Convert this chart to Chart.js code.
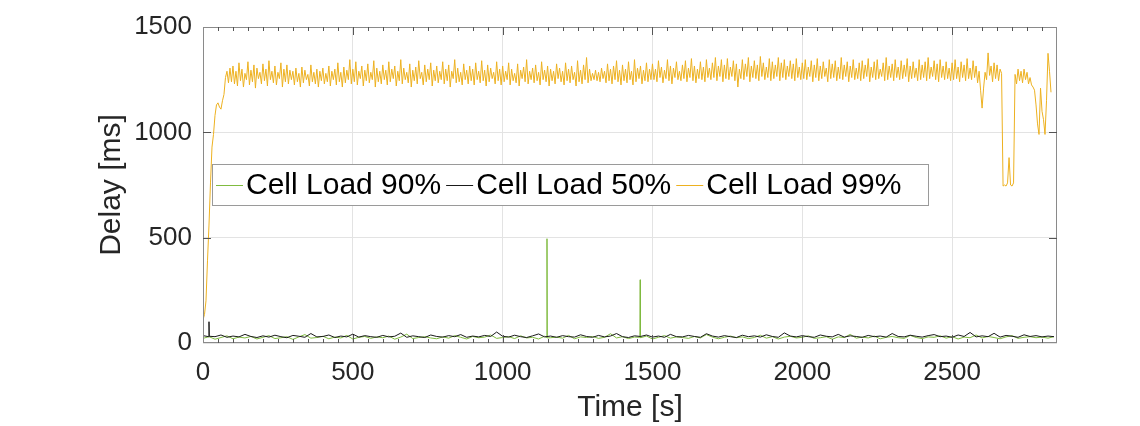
<!DOCTYPE html>
<html>
<head>
<meta charset="utf-8">
<script src="https://cdn.jsdelivr.net/npm/chart.js@4.4.1/dist/chart.umd.min.js"></script>
<style>
  html, body { margin: 0; padding: 0; background: #fff; }
  #wrap { width: 1140px; height: 426px; }
</style>
</head>
<body>
<div id="wrap"><canvas id="chart" width="1140" height="426"></canvas></div>
<script>
// series names (legend order)
const seriesNames = ['Cell Load 90%', 'Cell Load 50%', 'Cell Load 99%'];

// Cell Load 99% - one reading every 5 s, from t = 0
const yellowStep = 5;
const yellowDelay = [
  // 0 - 75 s: ramp up
  110, 135, 200, 390, 560, 760, 930, 990, 1080, 1130,
  1140, 1120, 1110, 1150, 1180, 1260,
  // 80 - 95 s
  1290, 1235, 1305, 1240,
  // 100 s
  1315, 1230, 1290, 1220, 1330, 1245, 1300, 1215, 1280, 1250,
  1335, 1225, 1295, 1240, 1320, 1210, 1305, 1255, 1285, 1230,
  // 200 s
  1325, 1245, 1300, 1220, 1340, 1250, 1290, 1235, 1315, 1225,
  1285, 1255, 1330, 1215, 1300, 1240, 1320, 1230, 1295, 1250,
  // 300 s
  1290, 1225, 1305, 1240, 1280, 1215, 1310, 1235, 1295, 1250,
  1275, 1220, 1320, 1240, 1285, 1230, 1300, 1215, 1290, 1245,
  // 400 s
  1305, 1230, 1280, 1240, 1315, 1220, 1290, 1250, 1300, 1225,
  1330, 1240, 1285, 1215, 1310, 1235, 1295, 1250, 1345, 1230,
  // 500 s
  1300, 1240, 1335, 1225, 1290, 1255, 1315, 1220, 1295, 1245,
  1325, 1235, 1285, 1250, 1340, 1215, 1305, 1240, 1290, 1230,
  // 600 s
  1320, 1250, 1295, 1225, 1335, 1240, 1300, 1255, 1315, 1220,
  1290, 1245, 1345, 1230, 1305, 1250, 1285, 1235, 1325, 1215,
  // 700 s
  1295, 1245, 1310, 1230, 1340, 1255, 1285, 1225, 1320, 1240,
  1300, 1250, 1330, 1220, 1295, 1245, 1315, 1235, 1290, 1250,
  // 800 s
  1335, 1230, 1300, 1245, 1320, 1215, 1290, 1255, 1345, 1235,
  1305, 1240, 1285, 1225, 1325, 1250, 1295, 1230, 1315, 1245,
  // 900 s
  1300, 1225, 1330, 1250, 1290, 1235, 1340, 1245, 1295, 1220,
  1320, 1240, 1305, 1255, 1285, 1230, 1335, 1245, 1300, 1225,
  // 1000 s
  1315, 1240, 1290, 1250, 1330, 1225, 1300, 1245, 1280, 1235,
  1325, 1220, 1295, 1255, 1310, 1240, 1345, 1230, 1290, 1250,
  // 1100 s
  1305, 1235, 1320, 1245, 1285, 1225, 1335, 1250, 1295, 1240,
  1315, 1220, 1300, 1245, 1290, 1230, 1325, 1255, 1305, 1240,
  // 1200 s
  1290, 1225, 1330, 1245, 1300, 1235, 1315, 1250, 1285, 1220,
  1340, 1240, 1295, 1230, 1320, 1250, 1355, 1235, 1300, 1245,
  // 1300 s
  1280, 1250, 1295, 1245, 1285, 1240, 1305, 1255, 1290, 1235,
  1325, 1245, 1300, 1230, 1315, 1250, 1340, 1240, 1295, 1225,
  // 1400 s
  1320, 1245, 1300, 1235, 1335, 1250, 1290, 1225, 1345, 1240,
  1305, 1255, 1315, 1230, 1295, 1245, 1330, 1240, 1300, 1250,
  // 1500 s
  1325, 1250, 1300, 1240, 1340, 1260, 1310, 1235, 1295, 1255,
  1345, 1245, 1315, 1230, 1305, 1260, 1335, 1250, 1290, 1245,
  // 1600 s
  1320, 1255, 1340, 1240, 1305, 1260, 1350, 1245, 1315, 1235,
  1300, 1255, 1335, 1250, 1310, 1240, 1345, 1260, 1305, 1250,
  // 1700 s
  1330, 1260, 1355, 1245, 1315, 1265, 1345, 1240, 1320, 1255,
  1350, 1250, 1310, 1265, 1340, 1245, 1325, 1215, 1300, 1255,
  // 1800 s
  1345, 1250, 1325, 1265, 1355, 1240, 1315, 1260, 1340, 1255,
  1320, 1245, 1360, 1265, 1330, 1250, 1310, 1260, 1350, 1245,
  // 1900 s
  1335, 1255, 1320, 1265, 1355, 1245, 1330, 1260, 1345, 1250,
  1315, 1265, 1340, 1255, 1325, 1245, 1350, 1260, 1310, 1250,
  // 2000 s
  1330, 1255, 1345, 1250, 1310, 1265, 1340, 1240, 1320, 1260,
  1350, 1245, 1315, 1255, 1335, 1265, 1305, 1240, 1345, 1255,
  // 2100 s
  1325, 1260, 1340, 1245, 1310, 1255, 1355, 1250, 1320, 1265,
  1335, 1240, 1315, 1260, 1345, 1250, 1305, 1255, 1330, 1245,
  // 2200 s
  1340, 1255, 1320, 1265, 1350, 1240, 1310, 1260, 1335, 1250,
  1345, 1255, 1300, 1265, 1330, 1245, 1355, 1250, 1315, 1260,
  // 2300 s
  1325, 1245, 1345, 1260, 1310, 1250, 1340, 1255, 1320, 1265,
  1350, 1240, 1315, 1255, 1335, 1260, 1305, 1245, 1345, 1250,
  // 2400 s
  1320, 1260, 1335, 1245, 1355, 1255, 1310, 1265, 1340, 1250,
  1325, 1240, 1345, 1260, 1315, 1250, 1335, 1255, 1305, 1245,
  // 2500 s
  1330, 1250, 1345, 1255, 1310, 1240, 1335, 1260, 1320, 1245,
  1350, 1255, 1305, 1250, 1340, 1260, 1315, 1235, 1290, 1200,
  // 2600 s: dips
  1115, 1210, 1285, 1250, 1377, 1270, 1315, 1240, 1330, 1255,
  1320, 1245, 1300, 1280, 745, 750, 745, 760, 880, 750,
  // 2700 s
  745, 760, 1275, 1230, 1300, 1245, 1290, 1235, 1300, 1250,
  1285, 1230, 1260, 1225, 1215, 1200, 1130, 1040, 990, 1210,
  // 2800 - 2830 s
  1100, 1060, 990, 1150, 1375, 1290, 1190
];

// Cell Load 90% and 50% - one reading every 20 s, from t = 0
const lowStep = 20;
const greenDelay = [
  22, 30, 18, 26, 34, 20, 28, 24, 31, 19,
  27, 35, 21, 25, 30, 17, 29, 40, 23, 26,
  32, 20, 28, 24, 36, 19, 27, 31, 22, 29,
  25, 33, 18, 28, 42, 21, 26, 30, 24, 20,
  29, 23, 35, 27, 19, 31, 25, 28, 38, 22,
  26, 30, 21, 34, 24, 27, 19, 32, 25, 28,
  23, 36, 20, 29, 26, 31, 22, 27, 44, 24,
  30, 21, 28, 25, 33, 19, 27, 35, 23, 29,
  26, 22, 31, 24, 40, 28, 20, 27, 33, 25,
  29, 21, 26, 37, 23, 30, 19, 28, 32, 24,
  27, 34, 22, 25, 30, 18, 29, 26, 41, 23,
  28, 24, 33, 20, 27, 31, 25, 22, 36, 26,
  21, 29, 27, 34, 23, 30, 19, 28, 25, 38,
  24, 31, 26, 20, 29, 35, 22, 27, 30, 25,
  28, 23, 30
];
const blackDelay = [
  35, 32, 30, 38, 27, 33, 29, 41, 31, 26,
  34, 28, 37, 30, 25, 36, 32, 27, 45, 29,
  31, 38, 26, 33, 29, 42, 28, 35, 30, 27,
  36, 29, 32, 47, 27, 34, 30, 26, 38, 31,
  28, 35, 30, 40, 27, 33, 29, 36, 31, 52,
  32, 28, 37, 30, 26, 34, 43, 29, 33, 27,
  35, 30, 28, 39, 31, 27, 36, 29, 33, 45,
  30, 26, 34, 31, 38, 28, 33, 27, 41, 30,
  29, 36, 31, 27, 44, 33, 28, 35, 30, 26,
  37, 30, 34, 28, 39, 31, 27, 48, 33, 29,
  35, 30, 27, 38, 32, 29, 41, 28, 34, 31,
  27, 36, 30, 33, 28, 45, 31, 29, 37, 32,
  28, 35, 40, 30, 33, 27, 38, 31, 50, 29,
  34, 30, 46, 28, 36, 32, 27, 39, 31, 35,
  29, 33, 30
];

// narrow spikes between the regular readings
const greenSpikeTime = [1147, 1148, 1149, 1458, 1459, 1460];
const greenSpikeDelay = [26, 495, 24, 27, 300, 25];
const blackSpikeTime = [19, 20, 21];
const blackSpikeDelay = [30, 101, 32];

// axes
const xTicks = [0, 500, 1000, 1500, 2000, 2500];
const yTicks = [0, 500, 1000, 1500];
const xMax = 2850;
const yMax = 1500;

const colors = ['#80bb40', '#1a1a1a', '#EDB120'];
const FONT = "'Liberation Sans', Arial, Helvetica, sans-serif";

function onGrid(values, step) {
  return values.map((v, i) => ({ x: i * step, y: v }));
}
function withSpikes(points, times, values) {
  const extra = times.map((t, i) => ({ x: t, y: values[i] }));
  return points.concat(extra).sort((a, b) => a.x - b.x);
}

// box with inward ticks, like the original figure
const frame = {
  id: 'frame',
  afterDatasetsDraw(chart) {
    const { ctx, chartArea: a, scales: { x, y } } = chart;
    ctx.save();
    ctx.strokeStyle = '#8a8a8a';
    ctx.lineWidth = 1;
    ctx.strokeRect(a.left + 0.5, a.top + 0.5, a.width - 1, a.height - 1);
    ctx.strokeStyle = '#555';
    ctx.beginPath();
    for (let t = 50; t < xMax; t += 50) {
      const px = Math.round(x.getPixelForValue(t)) + 0.5;
      const len = xTicks.includes(t) ? 8 : 4;
      ctx.moveTo(px, a.bottom); ctx.lineTo(px, a.bottom - len);
      ctx.moveTo(px, a.top); ctx.lineTo(px, a.top + len);
    }
    yTicks.slice(1, -1).forEach(v => {
      const py = Math.round(y.getPixelForValue(v)) + 0.5;
      ctx.moveTo(a.left, py); ctx.lineTo(a.left + 8, py);
      ctx.moveTo(a.right, py); ctx.lineTo(a.right - 8, py);
    });
    ctx.stroke();
    ctx.restore();
  }
};

// legend box inside the plot area
const boxLegend = {
  id: 'boxLegend',
  afterDraw(chart) {
    const ctx = chart.ctx;
    const left = 212, top = 164, right = 929, bottom = 206;
    const cy = (top + bottom) / 2;
    ctx.save();
    ctx.fillStyle = '#fff';
    ctx.fillRect(left, top, right - left, bottom - top);
    ctx.strokeStyle = '#9a9a9a';
    ctx.lineWidth = 1;
    ctx.strokeRect(left + 0.5, top + 0.5, right - left - 1, bottom - top - 1);
    ctx.font = '30px ' + FONT;
    ctx.textBaseline = 'middle';
    let xPos = left + 4;
    seriesNames.forEach((name, i) => {
      ctx.strokeStyle = colors[i];
      ctx.beginPath();
      ctx.moveTo(xPos, cy + 0.5);
      ctx.lineTo(xPos + 27, cy + 0.5);
      ctx.stroke();
      xPos += 30;
      ctx.fillStyle = '#000';
      ctx.fillText(name, xPos, cy + 1);
      xPos += ctx.measureText(name).width + 5;
    });
    ctx.restore();
  }
};

new Chart(document.getElementById('chart'), {
  type: 'line',
  data: {
    datasets: [
      {
        label: seriesNames[0],
        data: withSpikes(onGrid(greenDelay, lowStep), greenSpikeTime, greenSpikeDelay),
        borderColor: colors[0],
        borderWidth: 1,
        order: 3
      },
      {
        label: seriesNames[1],
        data: withSpikes(onGrid(blackDelay, lowStep), blackSpikeTime, blackSpikeDelay),
        borderColor: colors[1],
        borderWidth: 1,
        order: 2
      },
      {
        label: seriesNames[2],
        data: onGrid(yellowDelay, yellowStep),
        borderColor: colors[2],
        borderWidth: 1,
        order: 1
      }
    ]
  },
  options: {
    responsive: false,
    animation: false,
    events: [],
    elements: { point: { radius: 0 }, line: { tension: 0 } },
    layout: { padding: { left: 70, top: 27, right: 83, bottom: 0 } },
    plugins: {
      legend: { display: false },
      tooltip: { enabled: false }
    },
    scales: {
      x: {
        type: 'linear',
        min: 0,
        max: xMax,
        afterBuildTicks: scale => { scale.ticks = xTicks.map(v => ({ value: v })); },
        afterFit: scale => { scale.height = 83; },
        grid: { color: '#e3e3e3', drawTicks: false },
        border: { display: false },
        ticks: {
          color: '#262626',
          font: { family: FONT, size: 26 },
          padding: 14,
          maxRotation: 0,
          callback: v => String(v)
        },
        title: {
          display: true,
          text: 'Time [s]',
          color: '#262626',
          font: { family: FONT, size: 30 },
          padding: { top: 0, bottom: 0 }
        }
      },
      y: {
        min: 0,
        max: yMax,
        afterBuildTicks: scale => { scale.ticks = yTicks.map(v => ({ value: v })); },
        afterFit: scale => { scale.width = 133; },
        grid: { color: '#e3e3e3', drawTicks: false },
        border: { display: false },
        ticks: {
          color: '#262626',
          font: { family: FONT, size: 26 },
          padding: 11,
          callback: v => String(v)
        },
        title: {
          display: true,
          text: 'Delay [ms]',
          color: '#262626',
          font: { family: FONT, size: 30 },
          padding: { top: 24, bottom: 0 }
        }
      }
    }
  },
  plugins: [frame, boxLegend]
});
</script>
</body>
</html>
